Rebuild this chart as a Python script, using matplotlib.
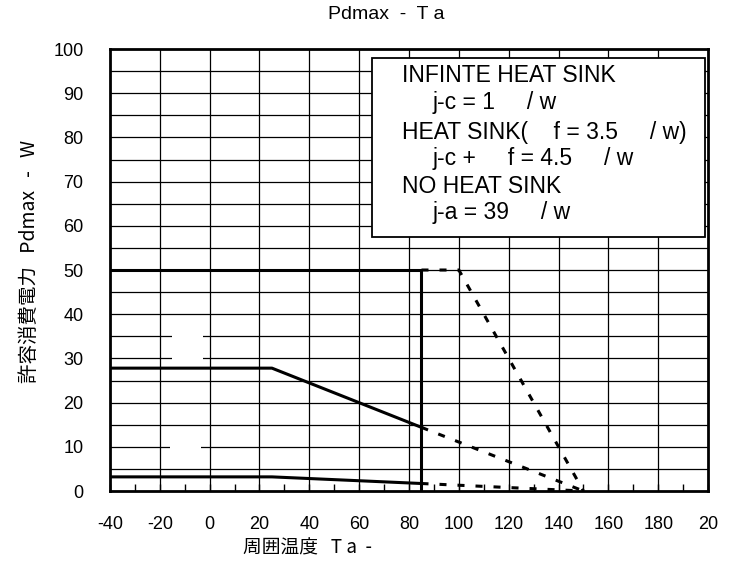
import numpy as np
import matplotlib.pyplot as plt
from matplotlib.patches import Rectangle

# derating curves (Ta in degC, Pd in W)
inf_solid_x = [-40, 85, 85]
inf_solid_y = [50, 50, 0]
inf_dash_x = [85, 100, 150]
inf_dash_y = [50, 50, 0]

hs_solid_x = [-40, 25, 85]
hs_solid_y = [27.8, 27.8, 14.4]
hs_dash_x = [85, 150]
hs_dash_y = [14.4, 0]

nohs_solid_x = [-40, 25, 85]
nohs_solid_y = [3.2, 3.2, 1.7]
nohs_dash_x = [85, 150]
nohs_dash_y = [1.7, 0]

xticks = [-40, -20, 0, 20, 40, 60, 80, 100, 120, 140, 160, 180, 200]
xtick_labels = ['-40', '-20', '0', '20', '40', '60', '80', '100', '120', '140', '160', '180', '20']
yticks = [0, 10, 20, 30, 40, 50, 60, 70, 80, 90, 100]

legend_lines = [
    ('INFINTE HEAT SINK', 0),
    ('j-c = 1     / w', 1),
    ('HEAT SINK(    f = 3.5     / w)', 0),
    ('j-c +     f = 4.5     / w', 1),
    ('NO HEAT SINK', 0),
    ('j-a = 39     / w', 1),
]

plt.rcParams['font.family'] = ['Liberation Sans', 'DejaVu Sans']
cjk = ['Noto Sans CJK JP', 'DejaVu Sans']

fig = plt.figure(figsize=(7.33, 5.62), dpi=100)
ax = fig.add_axes([0.150, 0.1263, 0.816, 0.7865])

ax.set_xlim(-40, 200)
ax.set_ylim(0, 100)

# grid: vertical every 20, horizontal every 5
for gx in range(-20, 200, 20):
    ax.axvline(gx, color='black', lw=0.9, zorder=1)
for gy in range(5, 100, 5):
    ax.axhline(gy, color='black', lw=0.9, zorder=1)

# white patches over grid (as in source)
ax.add_patch(Rectangle((-15.3, 29.3), 12.5, 6.4, facecolor='white', edgecolor='none', zorder=2))
ax.add_patch(Rectangle((-16.0, 9.3), 12.5, 1.4, facecolor='white', edgecolor='none', zorder=2))

ax.plot(inf_solid_x, inf_solid_y, color='black', lw=2.2, zorder=4)
ax.plot(hs_solid_x, hs_solid_y, color='black', lw=2.2, zorder=4)
ax.plot(nohs_solid_x, nohs_solid_y, color='black', lw=2.2, zorder=4)
dash = (0, (2.3, 3.6))
ax.plot(inf_dash_x, inf_dash_y, color='black', lw=2.2, ls=dash, zorder=4)
ax.plot(hs_dash_x, hs_dash_y, color='black', lw=2.2, ls=dash, zorder=4)
ax.plot(nohs_dash_x, nohs_dash_y, color='black', lw=2.2, ls=dash, zorder=4)

# legend box
ax.add_patch(Rectangle((65.2, 57.5), 133.6, 40.5, facecolor='white', edgecolor='black', lw=1.3, zorder=5))
ly = [94.1, 87.8, 81.2, 75.3, 68.8, 62.9]
for (txt, indent), yy in zip(legend_lines, ly):
    ax.text(77.3 + indent * 12.0, yy, txt, fontsize=16.5, va='center', ha='left', zorder=6)

ax.set_xticks(xticks)
ax.set_xticklabels(xtick_labels, fontsize=13)
ax.set_xticks(range(-30, 200, 20), minor=True)
ax.set_yticks(yticks)
ax.set_yticklabels([str(v) for v in yticks], fontsize=13)
ax.tick_params(axis='x', which='both', direction='in', length=5, width=1, pad=18)
ax.tick_params(axis='y', which='both', length=0, pad=19)

for s in ax.spines.values():
    s.set_linewidth(2)
    s.set_zorder(7)

ax.text(0.462, 1.077, 'Pdmax  -  T a', transform=ax.transAxes, ha='center', va='center', fontsize=14)
ax.text(0.222, -0.129, '周囲温度   T a  -', transform=ax.transAxes, ha='left', va='center', fontsize=13.5, family=cjk)
ax.text(-0.134, 0.52, '許容消費電力   Pdmax   -   W', transform=ax.transAxes, ha='center', va='center',
        rotation=90, fontsize=14, family=cjk)

fig.savefig('out.png', dpi=100)
